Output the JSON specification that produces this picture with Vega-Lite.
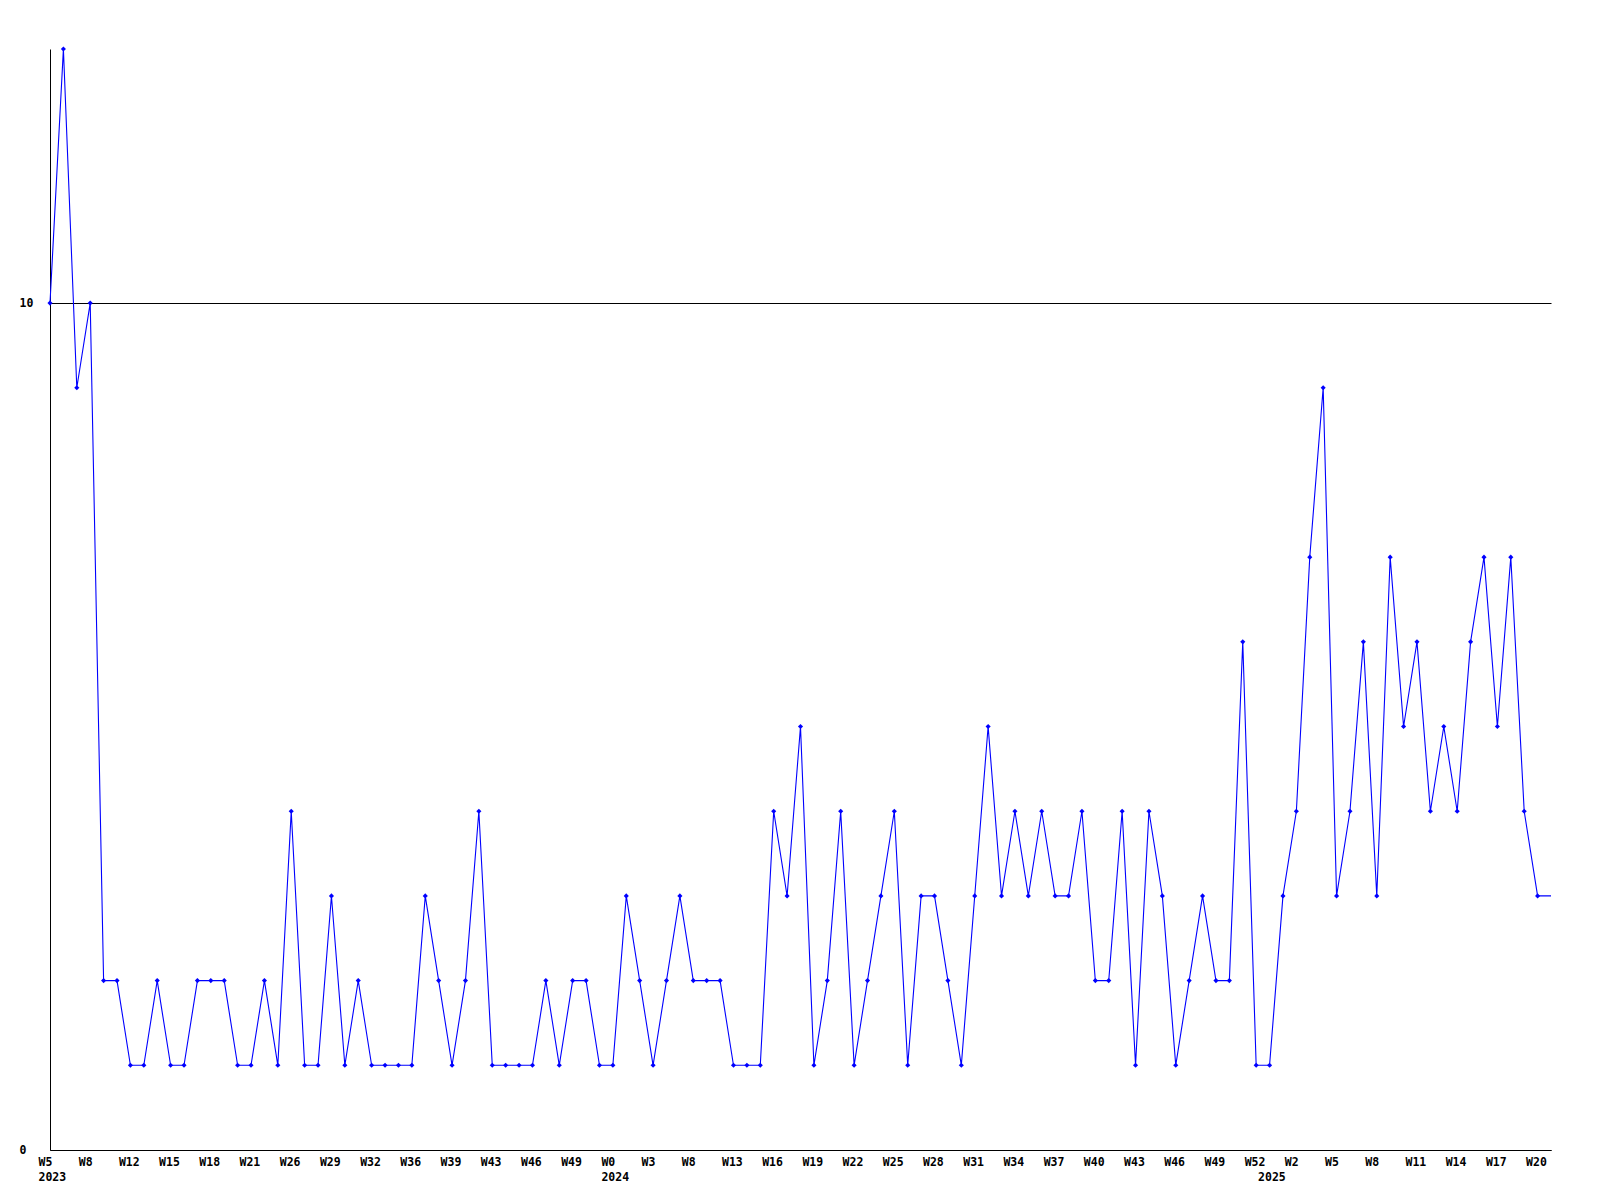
{
  "$schema": "https://vega.github.io/schema/vega-lite/v6.json",
  "width": 1501,
  "height": 1101,
  "autosize": {"type": "none"},
  "padding": {"left": 50, "top": 49, "right": 49, "bottom": 50},
  "background": "white",
  "config": {"view": {"stroke": null}, "font": "DejaVu Sans Mono"},
  "data": {"values": [
    {"week": "2023-W05", "value": 10}, {"week": "2023-W06", "value": 13}, {"week": "2023-W07", "value": 9}, {"week": "2023-W08", "value": 10},
    {"week": "2023-W09", "value": 2}, {"week": "2023-W10", "value": 2}, {"week": "2023-W12", "value": 1}, {"week": "2023-W13", "value": 1},
    {"week": "2023-W14", "value": 2}, {"week": "2023-W15", "value": 1}, {"week": "2023-W16", "value": 1}, {"week": "2023-W17", "value": 2},
    {"week": "2023-W18", "value": 2}, {"week": "2023-W19", "value": 2}, {"week": "2023-W20", "value": 1}, {"week": "2023-W21", "value": 1},
    {"week": "2023-W22", "value": 2}, {"week": "2023-W24", "value": 1}, {"week": "2023-W26", "value": 4}, {"week": "2023-W27", "value": 1},
    {"week": "2023-W28", "value": 1}, {"week": "2023-W29", "value": 3}, {"week": "2023-W30", "value": 1}, {"week": "2023-W31", "value": 2},
    {"week": "2023-W32", "value": 1}, {"week": "2023-W33", "value": 1}, {"week": "2023-W35", "value": 1}, {"week": "2023-W36", "value": 1},
    {"week": "2023-W37", "value": 3}, {"week": "2023-W38", "value": 2}, {"week": "2023-W39", "value": 1}, {"week": "2023-W40", "value": 2},
    {"week": "2023-W42", "value": 4}, {"week": "2023-W43", "value": 1}, {"week": "2023-W44", "value": 1}, {"week": "2023-W45", "value": 1},
    {"week": "2023-W46", "value": 1}, {"week": "2023-W47", "value": 2}, {"week": "2023-W48", "value": 1}, {"week": "2023-W49", "value": 2},
    {"week": "2023-W50", "value": 2}, {"week": "2023-W51", "value": 1},
    {"week": "2024-W00", "value": 1}, {"week": "2024-W01", "value": 3}, {"week": "2024-W02", "value": 2}, {"week": "2024-W03", "value": 1},
    {"week": "2024-W05", "value": 2}, {"week": "2024-W06", "value": 3}, {"week": "2024-W08", "value": 2}, {"week": "2024-W10", "value": 2},
    {"week": "2024-W11", "value": 2}, {"week": "2024-W13", "value": 1}, {"week": "2024-W14", "value": 1}, {"week": "2024-W15", "value": 1},
    {"week": "2024-W16", "value": 4}, {"week": "2024-W17", "value": 3}, {"week": "2024-W18", "value": 5}, {"week": "2024-W19", "value": 1},
    {"week": "2024-W20", "value": 2}, {"week": "2024-W21", "value": 4}, {"week": "2024-W22", "value": 1}, {"week": "2024-W23", "value": 2},
    {"week": "2024-W24", "value": 3}, {"week": "2024-W25", "value": 4}, {"week": "2024-W26", "value": 1}, {"week": "2024-W27", "value": 3},
    {"week": "2024-W28", "value": 3}, {"week": "2024-W29", "value": 2}, {"week": "2024-W30", "value": 1}, {"week": "2024-W31", "value": 3},
    {"week": "2024-W32", "value": 5}, {"week": "2024-W33", "value": 3}, {"week": "2024-W34", "value": 4}, {"week": "2024-W35", "value": 3},
    {"week": "2024-W36", "value": 4}, {"week": "2024-W37", "value": 3}, {"week": "2024-W38", "value": 3}, {"week": "2024-W39", "value": 4},
    {"week": "2024-W40", "value": 2}, {"week": "2024-W41", "value": 2}, {"week": "2024-W42", "value": 4}, {"week": "2024-W43", "value": 1},
    {"week": "2024-W44", "value": 4}, {"week": "2024-W45", "value": 3}, {"week": "2024-W46", "value": 1}, {"week": "2024-W47", "value": 2},
    {"week": "2024-W48", "value": 3}, {"week": "2024-W49", "value": 2}, {"week": "2024-W50", "value": 2}, {"week": "2024-W51", "value": 6},
    {"week": "2024-W52", "value": 1},
    {"week": "2025-W00", "value": 1}, {"week": "2025-W01", "value": 3}, {"week": "2025-W02", "value": 4}, {"week": "2025-W03", "value": 7},
    {"week": "2025-W04", "value": 9}, {"week": "2025-W05", "value": 3}, {"week": "2025-W06", "value": 4}, {"week": "2025-W07", "value": 6},
    {"week": "2025-W08", "value": 3}, {"week": "2025-W09", "value": 7}, {"week": "2025-W10", "value": 5}, {"week": "2025-W11", "value": 6},
    {"week": "2025-W12", "value": 4}, {"week": "2025-W13", "value": 5}, {"week": "2025-W14", "value": 4}, {"week": "2025-W15", "value": 6},
    {"week": "2025-W16", "value": 7}, {"week": "2025-W17", "value": 5}, {"week": "2025-W18", "value": 7}, {"week": "2025-W19", "value": 4},
    {"week": "2025-W20", "value": 3}, {"week": "2025-W21", "value": 3}
  ]},
  "encoding": {
    "x": {
      "field": "week",
      "type": "ordinal",
      "sort": null,
      "scale": {"type": "point", "padding": 0},
      "axis": {
        "title": null,
        "values": ["2023-W05", "2023-W08", "2023-W12", "2023-W15", "2023-W18", "2023-W21", "2023-W26", "2023-W29", "2023-W32", "2023-W36", "2023-W39", "2023-W43", "2023-W46", "2023-W49",
                   "2024-W00", "2024-W03", "2024-W08", "2024-W13", "2024-W16", "2024-W19", "2024-W22", "2024-W25", "2024-W28", "2024-W31", "2024-W34", "2024-W37", "2024-W40", "2024-W43", "2024-W46", "2024-W49", "2024-W52",
                   "2025-W00", "2025-W02", "2025-W05", "2025-W08", "2025-W11", "2025-W14", "2025-W17", "2025-W20"],
        "labelExpr": "datum.value == '2025-W00' ? ['', '2025'] : (indexof(['2023-W05', '2024-W00'], datum.value) >= 0 ? ['W' + toNumber(slice(datum.value, 6)), slice(datum.value, 0, 4)] : 'W' + toNumber(slice(datum.value, 6)))",
        "ticks": false,
        "tickSize": 0,
        "grid": false,
        "domainColor": "#000000",
        "domainWidth": 1,
        "labelFont": "DejaVu Sans Mono",
        "labelFontWeight": "bold",
        "labelFontSize": 11.5,
        "labelColor": "#000000",
        "labelPadding": 6,
        "labelAngle": 0,
        "labelAlign": "left",
        "labelOffset": -12,
        "labelBaseline": "top",
        "labelLineHeight": 15,
        "labelOverlap": false,
        "labelBound": false,
        "labelFlush": false
      }
    },
    "y": {
      "field": "value",
      "type": "quantitative",
      "scale": {"domain": [0, 13], "nice": false, "zero": true},
      "axis": {
        "title": null,
        "values": [0, 10],
        "grid": true,
        "gridColor": "#000000",
        "gridOpacity": 1,
        "gridWidth": 1,
        "ticks": false,
        "tickSize": 0,
        "domainColor": "#000000",
        "domainWidth": 1,
        "labelFont": "DejaVu Sans Mono",
        "labelFontWeight": "bold",
        "labelFontSize": 11.5,
        "labelColor": "#000000",
        "labelAlign": "left",
        "labelBaseline": "middle",
        "labelPadding": 31
      }
    }
  },
  "layer": [
    {"mark": {"type": "line", "color": "#0000ff", "strokeWidth": 1.1}},
    {
      "transform": [{"filter": "datum.week != '2025-W21'"}],
      "mark": {"type": "point", "shape": "diamond", "filled": true, "color": "#0000ff", "size": 26, "opacity": 1}
    }
  ]
}
